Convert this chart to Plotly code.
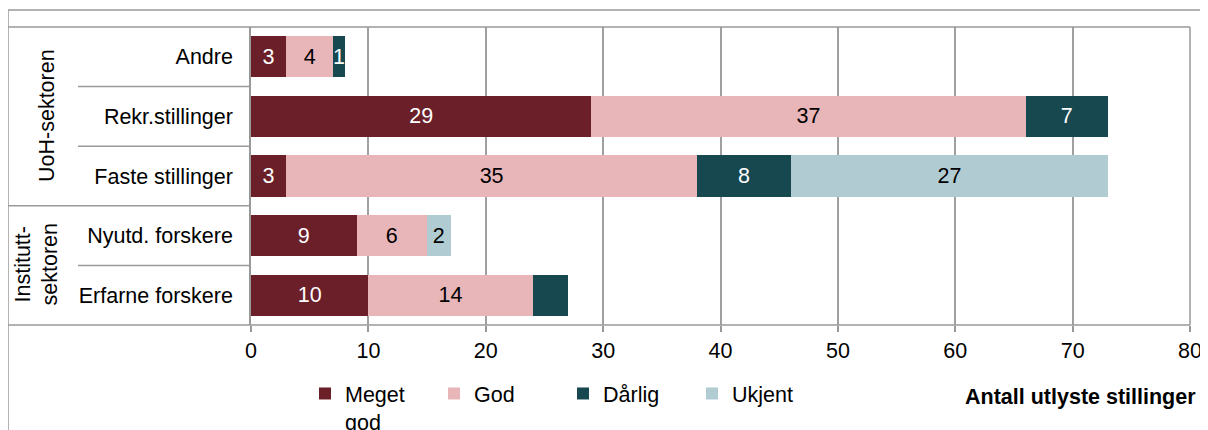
import plotly.graph_objects as go

categories = ["Andre", "Rekr.stillinger", "Faste stillinger", "Nyutd. forskere", "Erfarne forskere"]
series_names = ["Meget<br>god", "God", "Dårlig", "Ukjent"]
meget_god = [3, 29, 3, 9, 10]
god = [4, 37, 35, 6, 14]
darlig = [1, 7, 8, 0, 3]
ukjent = [0, 0, 27, 2, 0]
hidden_labels = {("Dårlig", "Erfarne forskere")}
group_labels = ["UoH-sektoren", "Institutt-<br>sektoren"]
x_ticks = [0, 10, 20, 30, 40, 50, 60, 70, 80]
x_title = "Antall utlyste stillinger"

colors = ["#6B1F29", "#E8B5B9", "#17474F", "#B1CBD3"]
text_colors = ["white", "black", "white", "black"]
FONT = "Liberation Sans, Arial, sans-serif"
FS = 21.5

W, H = 1208, 430
OFF = 8  # page body margin
# plot area in page pixels
PL, PR, PT, PB = 251, 1190, 27, 325
L, T = PL - OFF, PT - OFF
R = W - (PR - OFF)
B = H - (PB - OFF)
PW, PH = PR - PL, PB - PT


def px(xp):
    return (xp - PL) / PW


def py(yp):
    return (PB - yp) / PH


def cx(xp):
    return (xp - OFF) / W


def cy(yp):
    return (H - (yp - OFF)) / H


fig = go.Figure()
for name, vals, col, tcol in zip(series_names, [meget_god, god, darlig, ukjent], colors, text_colors):
    plain = name.replace("<br>", " ")
    labels = []
    for c, v in zip(categories, vals):
        if v == 0 or (plain, c) in hidden_labels:
            labels.append("")
        else:
            labels.append(str(v))
    fig.add_trace(go.Bar(
        y=categories, x=vals, name=name, orientation="h",
        marker=dict(color=col, line=dict(width=0)),
        text=labels, textposition="inside", insidetextanchor="middle",
        textangle=0, textfont=dict(color=tcol, size=FS, family=FONT),
        hoverinfo="skip",
    ))

grid = "#A0A0A0"
frame = "#999999"
shapes = []


def line(x0, y0, x1, y1, w=1.5, c=frame):
    shapes.append(dict(type="line", xref="paper", yref="paper", x0=x0, y0=y0, x1=x1, y1=y1,
                       line=dict(color=c, width=w), layer="above"))


# outer frame
line(px(8), py(10), px(1220), py(10))
line(px(8), py(10), px(8), py(450))
# table lines
line(px(8), 1, 1, 1)
line(px(8), 0, 1, 0)
line(1, 0, 1, 1)
line(px(8), 0.4, 0, 0.4)
for yy in [0.2, 0.6, 0.8]:
    line(px(78), yy, 0, yy)

annotations = [
    dict(text=group_labels[0], xref="paper", yref="paper", x=px(47), y=py(116), textangle=-90,
         showarrow=False, font=dict(size=FS, family=FONT, color="black"), xanchor="center", yanchor="middle"),
    dict(text=group_labels[1], xref="paper", yref="paper", x=px(36.5), y=py(265), textangle=-90,
         showarrow=False, font=dict(size=FS, family=FONT, color="black"), xanchor="center", yanchor="middle"),
    dict(text="<b>" + x_title + "</b>", xref="paper", yref="paper", x=px(1198), y=py(397),
         showarrow=False, font=dict(size=FS, family=FONT, color="black"), xanchor="right", yanchor="middle"),
]

fig.update_layout(
    width=W, height=H,
    margin=dict(l=L, r=R, t=T, b=B, autoexpand=False),
    barmode="stack", bargap=0.31,
    plot_bgcolor="white", paper_bgcolor="white",
    font=dict(family=FONT, size=FS, color="black"),
    uniformtext=dict(minsize=FS, mode="show"),
    showlegend=True,
    legend=dict(orientation="h", xref="container", yref="container",
                x=cx(305), y=cy(373), xanchor="left", yanchor="top",
                entrywidth=84, entrywidthmode="pixels", valign="top",
                font=dict(size=FS, family=FONT, color="black"), traceorder="normal",
                bgcolor="rgba(0,0,0,0)"),
    shapes=shapes, annotations=annotations,
)
fig.update_xaxes(range=[0, 80], tickvals=x_ticks, showgrid=True, gridcolor=grid, gridwidth=1.5,
                 zeroline=False, ticks="outside", ticklen=6, tickcolor=frame, tickwidth=1.5,
                 tickfont=dict(size=FS, family=FONT, color="black"), showline=False, automargin=False)
fig.update_yaxes(categoryorder="array", categoryarray=categories, autorange="reversed",
                 showgrid=False, showline=True, linecolor=frame, linewidth=1.5,
                 ticks="", ticklabelstandoff=12, automargin=False,
                 tickfont=dict(size=FS, family=FONT, color="black"))

fig.write_html("out.html")
